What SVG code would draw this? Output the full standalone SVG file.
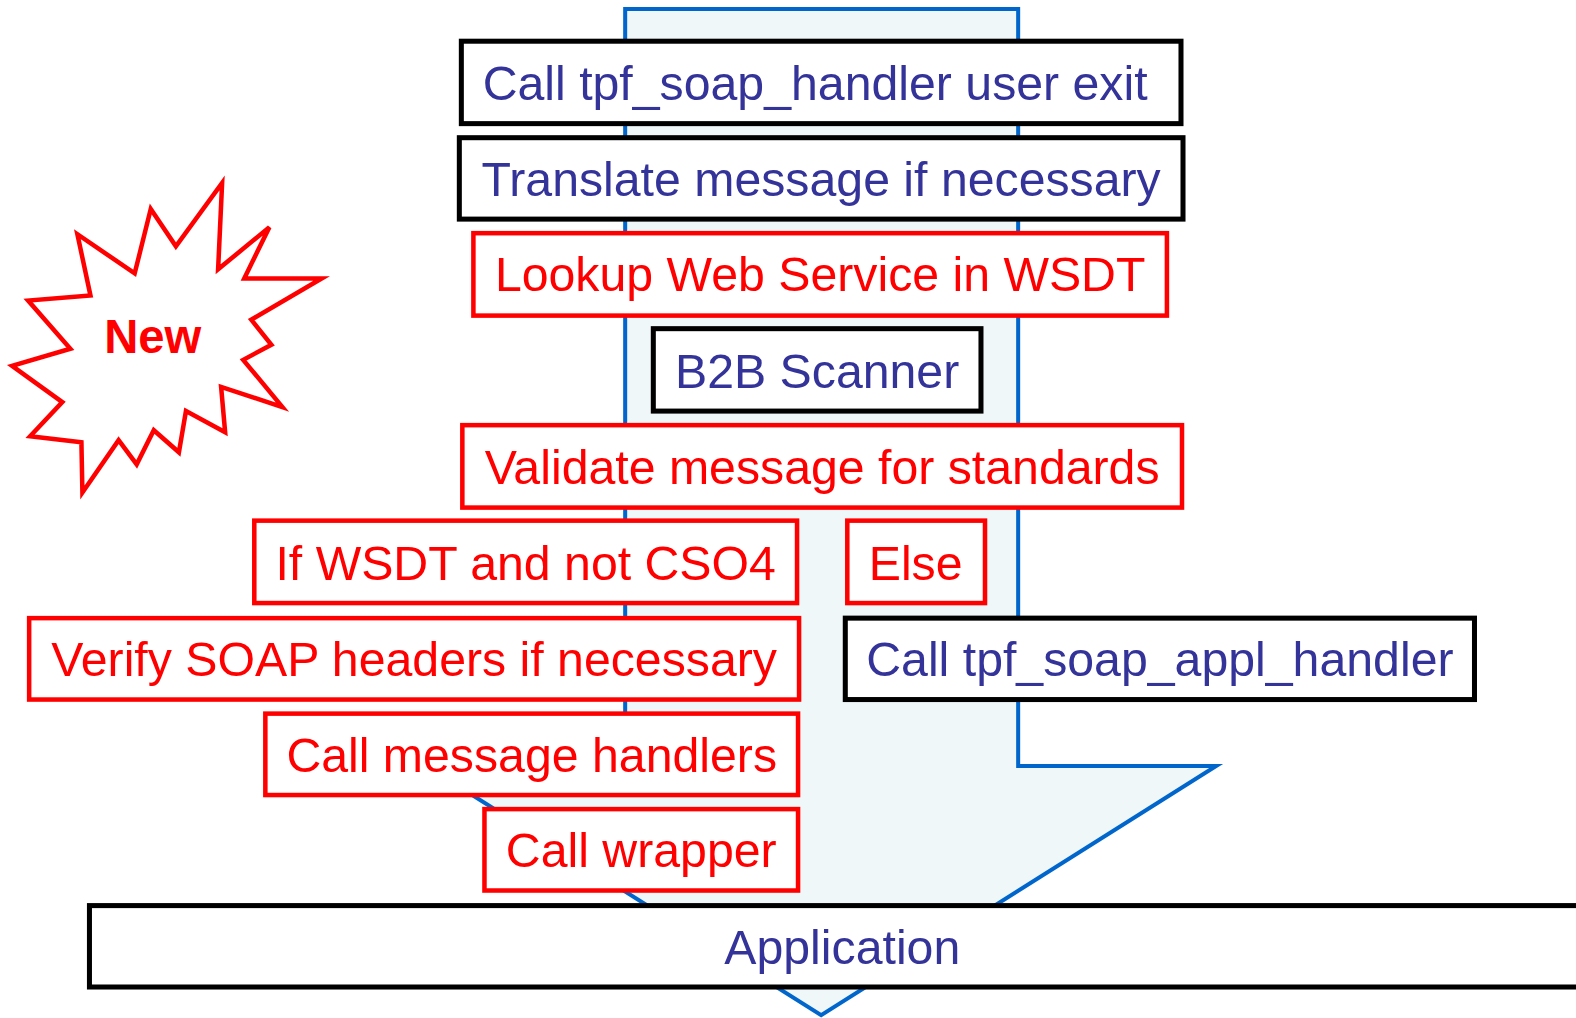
<svg xmlns="http://www.w3.org/2000/svg" width="1576" height="1018" viewBox="0 0 1576 1018">
<style>
.bk{fill:#ffffff;stroke:#000000;stroke-width:5}
.rd{fill:#ffffff;stroke:#ff0000;stroke-width:4.5}
.tb{font-family:"Liberation Sans",Arial,sans-serif;font-size:48px;fill:#333399;text-anchor:middle}
.tr{font-family:"Liberation Sans",Arial,sans-serif;font-size:48px;fill:#ff0000;text-anchor:middle}
</style>
<rect width="1576" height="1018" fill="#ffffff"/>
<g transform="scale(1.0051)">
<g id="connectors">
<path d="M622,9 L1013,9 L1013,762 L1210,762 L817,1010 L424,762 L622,762 Z" fill="#eff7f9" stroke="#0066cc" stroke-width="4" stroke-linejoin="miter"/>
</g>
<g id="new-burst">
<polygon points="221,182 217,268 268,226 243,277 320,277 250,318 270,343 242,358 281,405 220,385 224,430 185,409 178,450 153,428 136,462 118,438 82,490 81,440 30,434 62,400 12,364 70,347 28,299 90,294 77,233 134,272 150,208 175,245" fill="#ffffff" stroke="#ff0000" stroke-width="4.5" stroke-linejoin="miter"/>
<text x="152" y="351" font-family="'Liberation Sans',Arial,sans-serif" font-size="47" font-weight="bold" fill="#ff0000" text-anchor="middle">New</text>
</g>
<g id="n1">
<rect class="bk" x="459" y="41" width="716" height="82"/>
<text class="tb" x="811" y="99">Call tpf_soap_handler user exit</text>
</g>
<g id="n2">
<rect class="bk" x="457" y="137" width="720" height="81"/>
<text class="tb" x="817" y="195">Translate message if necessary</text>
</g>
<g id="n3">
<rect class="rd" x="471" y="232" width="690" height="82"/>
<text class="tr" x="816" y="290">Lookup Web Service in WSDT</text>
</g>
<g id="n4">
<rect class="bk" x="650" y="327" width="326" height="82"/>
<text class="tb" x="813" y="386">B2B Scanner</text>
</g>
<g id="n5">
<rect class="rd" x="460" y="423" width="716" height="82"/>
<text class="tr" x="818" y="482">Validate message for standards</text>
</g>
<g id="n6">
<rect class="rd" x="253" y="518" width="540" height="82"/>
<text class="tr" x="523" y="577">If WSDT and not CSO4</text>
</g>
<g id="n7">
<rect class="rd" x="843" y="518" width="137" height="82"/>
<text class="tr" x="911" y="577">Else</text>
</g>
<g id="n8">
<rect class="rd" x="29" y="615" width="766" height="81"/>
<text class="tr" x="412" y="673">Verify SOAP headers if necessary</text>
</g>
<g id="n9">
<rect class="bk" x="841" y="615" width="626" height="81"/>
<text class="tb" x="1154" y="673">Call tpf_soap_appl_handler</text>
</g>
<g id="n10">
<rect class="rd" x="264" y="710" width="530" height="81"/>
<text class="tr" x="529" y="768">Call message handlers</text>
</g>
<g id="n11">
<rect class="rd" x="482" y="805" width="312" height="81"/>
<text class="tr" x="638" y="863">Call wrapper</text>
</g>
<g id="n12">
<rect class="bk" x="89" y="901" width="1510" height="81"/>
<text class="tb" x="838" y="959">Application</text>
</g>
</g>
</svg>
